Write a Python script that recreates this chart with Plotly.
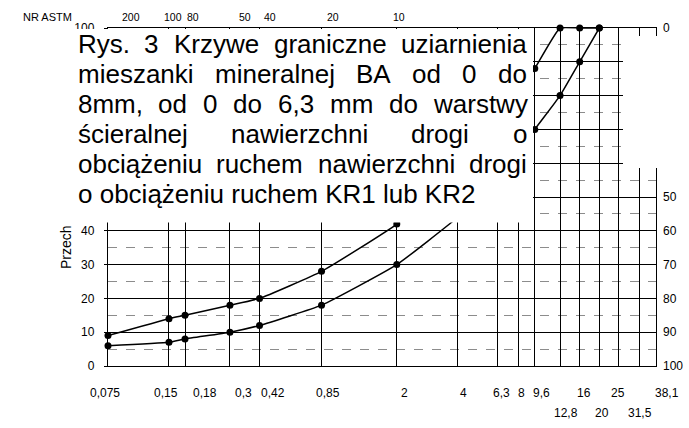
import math

import plotly.graph_objects as go

# sieve sizes on the bottom axis (mm) and their printed labels
SIEVES_MM = [0.075, 0.15, 0.18, 0.3, 0.42, 0.85, 2, 4, 6.3, 8, 9.6,
             12.8, 16, 20, 25, 31.5, 38.1]
SIEVE_LABELS = ['0,075', '0,15', '0,18', '0,3', '0,42', '0,85', '2', '4',
                '6,3', '8', '9,6', '12,8', '16', '20', '25', '31,5', '38,1']

# ASTM sieve numbers printed on the top edge
ASTM_MM = [0.075, 0.15, 0.18, 0.3, 0.42, 0.85, 2]
ASTM_NUMBERS = ['200', '100', '80', '50', '40', '20', '10']

# % passing ticks (left) and % retained ticks (right)
PASSING_TICKS = [0, 10, 20, 30, 40, 50, 60, 70, 80, 90, 100]
PASSING_LABELS = ['0', '10', '20', '30', '40', '', '', '', '', '', '100']
RETAINED_LABELS = ['0', '', '', '', '', '50', '60', '70', '80', '90', '100']

# grading limit curves (% passing)
CURVE_MM = [0.075, 0.15, 0.18, 0.3, 0.42, 0.85, 2, 4, 6.3, 8, 9.6,
            12.8, 16, 20]
UPPER_LIMIT = [9, 14, 15, 18, 20, 28, 42, 58, 72, 81, 88, 100, 100, 100]
LOWER_LIMIT = [6, 7, 8, 10, 12, 18, 30, 44, 55, 63, 70, 80, 90, 100]

CAPTION_LINES = [
    'Rys. 3 Krzywe graniczne uziarnienia',
    'mieszanki mineralnej BA od 0 do',
    '8mm, od 0 do 6,3 mm do warstwy',
    'ścieralnej nawierzchni drogi o',
    'obciążeniu ruchem nawierzchni drogi',
    'o obciążeniu ruchem KR1 lub KR2',
]

# ---- layout helpers (pixels -> paper) ----
W, H = 689, 428
ML, MR, MT, MB = 108, 33, 28, 62
FONT = 'Arial, Liberation Sans, sans-serif'


def px_x(px):
    return (px - ML) / (W - ML - MR)


def px_y(py):
    return (H - MB - py) / (H - MT - MB)


# Arial advance widths (per 1000 em) for justifying the caption
ADV = {' ': 278, '.': 278, ',': 278, 'A': 667, 'B': 667, 'K': 667, 'R': 722,
       'a': 556, 'b': 556, 'c': 500, 'd': 556, 'e': 556, 'g': 556, 'h': 556,
       'i': 222, 'j': 222, 'k': 500, 'l': 222, 'm': 833, 'n': 556, 'o': 556,
       'r': 333, 's': 500, 't': 278, 'u': 556, 'w': 722, 'y': 500, 'z': 500,
       'ś': 500, 'ą': 556, 'ż': 500}


def text_width(word, size):
    return sum(ADV.get(ch, 556) for ch in word) * size / 1000.0


fig = go.Figure()

for values in (UPPER_LIMIT, LOWER_LIMIT):
    fig.add_trace(go.Scatter(
        x=CURVE_MM,
        y=values,
        mode='lines+markers',
        line=dict(color='black', width=1.5, shape='spline', smoothing=0.4),
        marker=dict(color='black', size=7),
        cliponaxis=False,
        showlegend=False,
        hoverinfo='skip'
    ))

# dummy trace so the reversed right axis is drawn
fig.add_trace(go.Scatter(x=[SIEVES_MM[0]], y=[0], yaxis='y2', mode='markers',
                         marker=dict(opacity=0), showlegend=False,
                         hoverinfo='skip'))

annotations = []

# bottom sieve labels (two rows, positioned like the print)
label_row = [0, 0, 0, 0, 0, 0, 0, 0, 0, 0, 0, 1, 0, 1, 0, 1, 0]
label_shift = [-3, -3, 20, 14, 13, 6, 8, 6, 4, 3, 7, 6, 4, 3, -1, 1, 11]
for mm, text, row, shift in zip(SIEVES_MM, SIEVE_LABELS, label_row,
                                label_shift):
    annotations.append(dict(
        x=math.log10(mm), xref='x', y=px_y(402 + 20 * row), yref='paper',
        text=text, showarrow=False, xshift=shift,
        font=dict(size=12, color='black', family=FONT)
    ))

# top ASTM labels
astm_shift = [23, 4, 8, 15, 10, 11, 2]
for mm, text, shift in zip(ASTM_MM, ASTM_NUMBERS, astm_shift):
    annotations.append(dict(
        x=math.log10(mm), xref='x', y=px_y(9), yref='paper',
        text=text, showarrow=False, xshift=shift,
        font=dict(size=10.5, color='black', family=FONT)
    ))
annotations.append(dict(
    x=px_x(21), xref='paper', y=px_y(9), yref='paper', xanchor='left',
    text='NR ASTM', showarrow=False,
    font=dict(size=11, color='black', family=FONT)
))

# y axis title, only its first letters show below the caption box
annotations.append(dict(
    x=px_x(66), xref='paper', y=px_y(271), yref='paper',
    xanchor='center', yanchor='bottom', textangle=-90,
    text='Przech', showarrow=False,
    font=dict(size=14, color='black', family=FONT)
))

# justified caption text
cap_size = 26
cap_left, cap_right = 76.7, 526
for i, line in enumerate(CAPTION_LINES):
    baseline = 53.3 + 30 * i
    y_mid = px_y(baseline - 0.3465 * cap_size)
    words = line.split(' ')
    if i == len(CAPTION_LINES) - 1:
        annotations.append(dict(
            x=px_x(cap_left), xref='paper', y=y_mid, yref='paper',
            xanchor='left', yanchor='middle', text=line, showarrow=False,
            borderpad=0, font=dict(size=cap_size, color='black', family=FONT)
        ))
        continue
    widths = [text_width(w, cap_size) for w in words]
    gap = (cap_right - cap_left - sum(widths)) / (len(words) - 1)
    xpos = cap_left
    for word, wd in zip(words, widths):
        annotations.append(dict(
            x=px_x(xpos), xref='paper', y=y_mid, yref='paper',
            xanchor='left', yanchor='middle', text=word, showarrow=False,
            borderpad=0, font=dict(size=cap_size, color='black', family=FONT)
        ))
        xpos += wd + gap

# white areas of the scan: caption box and a blank patch at top right
shapes = [
    dict(type='rect', xref='paper', yref='paper', layer='above',
         x0=px_x(45), x1=px_x(533), y0=px_y(222.5), y1=px_y(29),
         fillcolor='white', line=dict(width=0)),
    dict(type='rect', xref='paper', yref='paper', layer='above',
         x0=px_x(623), x1=px_x(689), y0=px_y(168), y1=px_y(36),
         fillcolor='white', line=dict(width=0)),
]

fig.update_layout(
    width=W,
    height=H,
    margin=dict(l=ML, r=MR, t=MT, b=MB, pad=0, autoexpand=False),
    paper_bgcolor='white',
    plot_bgcolor='white',
    font=dict(family=FONT, color='black'),
    showlegend=False,
    annotations=annotations,
    shapes=shapes,
    xaxis=dict(
        type='log',
        range=[math.log10(SIEVES_MM[0]), math.log10(SIEVES_MM[-1])],
        tickvals=SIEVES_MM,
        showticklabels=False,
        ticks='',
        showgrid=True,
        gridcolor='black',
        gridwidth=1.4,
        showline=True,
        linecolor='black',
        linewidth=1.4,
        mirror=True,
        zeroline=False,
        automargin=False
    ),
    yaxis=dict(
        range=[0, 100],
        tickvals=PASSING_TICKS,
        ticktext=PASSING_LABELS,
        ticks='outside',
        ticklen=3,
        tickcolor='black',
        ticklabelstandoff=7,
        tickfont=dict(size=12, color='black'),
        showgrid=True,
        gridcolor='black',
        gridwidth=1.4,
        minor=dict(dtick=5, showgrid=True, gridcolor='#8c8c8c',
                   griddash='dash', gridwidth=1),
        showline=True,
        linecolor='black',
        linewidth=1.4,
        mirror=True,
        zeroline=False,
        automargin=False
    ),
    yaxis2=dict(
        overlaying='y',
        side='right',
        range=[100, 0],
        tickvals=PASSING_TICKS,
        ticktext=RETAINED_LABELS,
        ticks='',
        ticklabelstandoff=6,
        tickfont=dict(size=12, color='black'),
        showgrid=False,
        zeroline=False,
        showline=False,
        automargin=False
    )
)

# the page's default body margin would push the 689px figure off-screen
fig.write_html('out.html', config={'displayModeBar': False},
               post_script="document.body.style.margin = '0';")
